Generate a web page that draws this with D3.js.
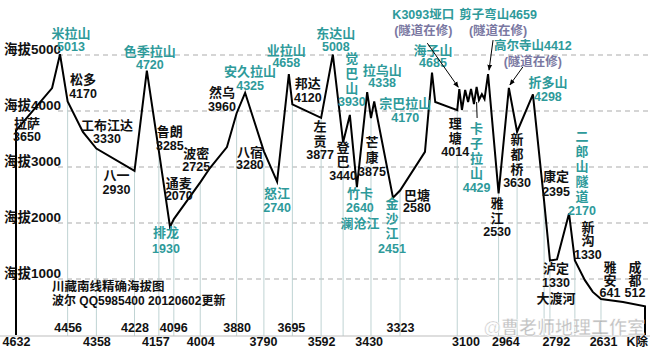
<!DOCTYPE html>
<html><head><meta charset="utf-8">
<script src="https://cdn.jsdelivr.net/npm/d3@7"></script>
<style>
body{margin:0;background:#fff}
svg text{font-family:"Liberation Sans","Noto Sans CJK SC",sans-serif;font-weight:bold}
</style></head><body>
<svg id="chart" width="650" height="350"></svg>
<script>
// Named places along the Sichuan–Tibet southern route (G318), west to east
const placeNames = ["拉萨","米拉山","松多","工布江达","八一","色季拉山","鲁朗","排龙","通麦","波密",
  "然乌","安久拉山","八宿","怒江","业拉山","邦达","左贡","东达山","登巴","觉巴山","竹卡","拉乌山",
  "芒康","宗巴拉山","金沙江","巴塘","海子山","理塘","K3093垭口","卡子拉山","剪子弯山","雅江",
  "高尔寺山","新都桥","折多山","康定","泸定","二郎山隧道","新沟","雅安","成都"];
const placeKm = [4632,4482,4456,4358,4228,4186,4145,4107,4094,4004,
  3880,3851,3787,3742,3702,3690,3592,3552,3517,3494,3470,3435,
  3422,3411,3347,3323,3214,3128,3121,3062,3023,2987,
  2952,2924,2870,2832,2812,2747,2727,2638,2488];
const placeAlt = [3650,5013,4170,3330,2930,4720,3285,1930,2070,2725,
  3960,4325,3280,2740,4658,4120,3877,5008,3440,3930,2640,4338,
  3875,4170,2451,2580,4685,4014,4390,4429,4659,2530,
  4412,3630,4298,2395,1330,2170,1330,641,512];

// Unnamed bends of the road profile
const bendKm  = [4509,4404,3971,3913,3238,3203,3112,3101,3091,3081,3071,3054,3044,3035,2788,2693,2666,2563];
const bendAlt = [4410,3625,2982,3357,3270,4160,4018,4375,4160,4393,4125,4196,4300,4214,1350,980,770,590];

// Mountain passes, rivers and tunnels (shown in teal)
const passNames = ["米拉山","色季拉山","排龙","安久拉山","怒江","业拉山","东达山","觉巴山","竹卡","拉乌山",
  "宗巴拉山","金沙江","海子山","K3093垭口","卡子拉山","剪子弯山","高尔寺山","折多山","二郎山隧道"];
// Towns with a drop line to the base
const dropNames = ["松多","工布江达","八一","鲁朗","通麦","波密","然乌","八宿","邦达","左贡","登巴",
  "芒康","巴塘","理塘","雅江","新都桥","康定","泸定","新沟","雅安"];
// Passes with a tunnel under construction
const tunnelNames = ["K3093垭口","剪子弯山","高尔寺山"];
const tunnelNote = "(隧道在修)";
const extraLines = {"竹卡":"澜沧江","泸定":"大渡河"};

// Road km markers along the bottom, two staggered rows
const kmTicksLow  = [4632,4358,4157,4004,3790,3592,3430,3100,2964,2792,2631];
const kmTicksHigh = [4456,4228,4096,3880,3695,3323];
const endMarker = "K除";
const altTicks = [1000,2000,3000,4000,5000];

const titleLines = ["川藏南线精确海拔图","波尔 QQ5985400 20120602更新"];
const watermark = "@曹老师地理工作室";

// Label placement relative to each place's point: offset of first line, vertical stacking
const labelLayout = {
  "拉萨":{dx:11,dy:-7.6},"米拉山":{dx:11,dy:-21},"松多":{dx:15.4,dy:-21.5},"工布江达":{dx:10.6,dy:-23.5},
  "八一":{dx:-18,dy:5},"色季拉山":{dx:3,dy:-19,gap:13},"鲁朗":{dx:11,dy:-20,gap:15},"排龙":{dx:-4,dy:6,gap:16},
  "通麦":{dx:5,dy:-36,gap:13},"波密":{dx:-4,dy:-29},"然乌":{dx:-14.6,dy:-21,gap:15},"安久拉山":{dx:5,dy:-21},
  "八宿":{dx:-14,dy:1,gap:13},"怒江":{dx:0,dy:11.5,gap:15},"业拉山":{dx:-2.5,dy:-24,gap:13},
  "邦达":{dx:15.5,dy:-21,gap:15},"左贡":{dx:-1,dy:9,v:true,step:15,gap:13},"东达山":{dx:3,dy:-21.5},
  "登巴":{dx:0,dy:5.6,v:true,step:14,gap:14},"觉巴山":{dx:2,dy:-56,v:true,step:15,gap:13},
  "竹卡":{dx:3,dy:6,gap:15},"拉乌山":{dx:15,dy:-22,gap:13},"芒康":{dx:1,dy:24,v:true,step:15,gap:15},
  "宗巴拉山":{dx:31,dy:2.5},"金沙江":{dx:-1,dy:6,v:true,step:15,gap:15},"巴塘":{dx:17,dy:4.5,gap:13},
  "海子山":{dx:1,dy:-22.6,gap:13},"理塘":{dx:-2,dy:13,v:true,step:15,gap:14},
  "K3093垭口":{dx:-36,dy:-74,gap:16,arrow:[-32,-46,-1,-2]},
  "卡子拉山":{dx:0,dy:42,v:true,step:15,gap:14,pointer:[15,31]},
  "剪子弯山":{dx:10,dy:-59,gap:16,arrow:[5,-34,1,-4]},
  "雅江":{dx:-1.5,dy:10,v:true,step:15,gap:14},
  "高尔寺山":{dx:24,dy:-42,gap:16,arrow:[14,-21,1,-3]},
  "新都桥":{dx:0,dy:8,v:true,step:15,gap:13},"折多山":{dx:15,dy:-12,gap:15},"康定":{dx:12,dy:-24,gap:15},
  "泸定":{dx:6,dy:7.5,gap:15},"二郎山隧道":{dx:13,dy:-76.5,v:true,step:15,gap:14},
  "新沟":{dx:13,dy:-33.5,v:true,step:13,gap:15},"雅安":{dx:9,dy:-32,v:true,step:13,gap:13},
  "成都":{dx:-10,dy:-39,v:true,step:13,gap:13}
};

const TEAL = "#2e9a9a", NOTE = "#7a78a2";
const svg = d3.select("#chart");
const x = d3.scaleLinear().domain([4632, 2488]).range([16, 645]);
const y = d3.scaleLinear().domain([0, 5000]).range([335, 55]);
const baseY = 336;

// altitude reference lines
const gAlt = svg.append("g");
gAlt.selectAll("line").data(altTicks).join("line")
  .attr("x1", 58).attr("x2", 650)
  .attr("y1", d => y(d)).attr("y2", d => y(d))
  .attr("stroke", "#ababab").attr("stroke-dasharray", "5,4").attr("stroke-width", 1);
gAlt.selectAll("text").data(altTicks).join("text")
  .attr("x", 4).attr("y", d => y(d) - 6).attr("dominant-baseline", "central")
  .attr("font-size", 13.5).attr("fill", "#111").text(d => "海拔" + d);

// assemble profile points
const places = placeNames.map((n, i) => ({name: n, km: placeKm[i], alt: placeAlt[i]}));
const byName = new Map(places.map(p => [p.name, p]));
const pts = places.concat(bendKm.map((k, i) => ({km: k, alt: bendAlt[i]})))
  .sort((a, b) => b.km - a.km);
const route = [{km: pts[0].km, alt: 0}, ...pts, {km: pts[pts.length - 1].km, alt: 0}];

// drop lines from towns
svg.append("g").selectAll("line").data(dropNames.map(n => byName.get(n))).join("line")
  .attr("x1", d => x(d.km)).attr("x2", d => x(d.km))
  .attr("y1", d => y(d.alt)).attr("y2", baseY)
  .attr("stroke", "#bfd3d3").attr("stroke-width", 1);

// base line
svg.append("line").attr("x1", 0).attr("x2", 650).attr("y1", baseY).attr("y2", baseY)
  .attr("stroke", "#bdbdbd").attr("stroke-width", 1.2);

// km marker rows
const axLow = svg.append("g").attr("transform", `translate(0,${baseY})`)
  .call(d3.axisBottom(x).tickValues(kmTicksLow).tickSize(0).tickFormat(d3.format("d")));
const axHigh = svg.append("g").attr("transform", `translate(0,${baseY})`)
  .call(d3.axisBottom(x).tickValues(kmTicksHigh).tickSize(0).tickFormat(d3.format("d")));
[axLow, axHigh].forEach(a => { a.select(".domain").remove(); });
axLow.selectAll("text").attr("y", 6).attr("dy", "0.35em").attr("font-size", 12.5).attr("fill", "#111")
  .attr("font-family", null);
axHigh.selectAll("text").attr("y", -8).attr("dy", "0.35em").attr("font-size", 12.5).attr("fill", "#111")
  .attr("font-family", null);
svg.append("text").attr("x", 648).attr("y", baseY + 6).attr("dy", "0.35em").attr("text-anchor", "end")
  .attr("font-size", 12.5).attr("fill", "#111").text(endMarker);

// profile line
svg.append("path").datum(route)
  .attr("d", d3.line().x(d => x(d.km)).y(d => y(d.alt)))
  .attr("fill", "none").attr("stroke", "#000").attr("stroke-width", 2).attr("stroke-linejoin", "miter");

// arrow head
svg.append("defs").append("marker").attr("id", "ah")
  .attr("viewBox", "0 0 10 10").attr("refX", 9).attr("refY", 5)
  .attr("markerWidth", 6).attr("markerHeight", 6).attr("orient", "auto")
  .append("path").attr("d", "M0,1L10,5L0,9z").attr("fill", "#000");

// place labels
const gLab = svg.append("g");
places.forEach(p => {
  const L = labelLayout[p.name]; if (!L) return;
  const px = x(p.km), py = y(p.alt);
  const col = passNames.includes(p.name) ? TEAL : "#111";
  const tunnel = tunnelNames.includes(p.name);
  const put = (tx, ty, s, c, fs) => gLab.append("text").attr("x", tx).attr("y", ty)
    .attr("text-anchor", "middle").attr("dominant-baseline", "central")
    .attr("font-size", fs || 13).attr("fill", c).text(s);
  const lx = px + L.dx, ly = py + L.dy;
  if (tunnel) {
    const main = p.name === "K3093垭口" ? p.name : p.name + p.alt;
    put(lx, ly, main, TEAL, 12.5);
    put(lx, ly + L.gap, tunnelNote, NOTE, 12.5);
    const a = L.arrow;
    gLab.append("line").attr("x1", px + a[0]).attr("y1", py + a[1]).attr("x2", px + a[2]).attr("y2", py + a[3])
      .attr("stroke", "#000").attr("stroke-width", 1).attr("marker-end", "url(#ah)");
  } else if (L.v) {
    const chars = Array.from(p.name);
    chars.forEach((c, i) => put(lx, ly + i * L.step, c, col, 13));
    put(lx, ly + (chars.length - 1) * L.step + L.gap, String(p.alt), col, 12.5);
    if (L.pointer) gLab.append("line").attr("x1", px).attr("x2", px + 0.5)
      .attr("y1", py + L.pointer[0]).attr("y2", py + L.pointer[1]).attr("stroke", "#000").attr("stroke-width", 1);
  } else {
    const g = L.gap || 14;
    put(lx, ly, p.name, col, 13);
    put(lx, ly + g, String(p.alt), col, 12.5);
    if (extraLines[p.name]) put(lx, ly + 2 * g, extraLines[p.name], col, 13);
  }
});

// title
titleLines.forEach((t, i) => svg.append("text").attr("x", 52).attr("y", 287 + i * 13.5)
  .attr("dominant-baseline", "central").attr("font-size", i ? 12 : 12.5).attr("fill", "#111").text(t));

// watermark
svg.append("text").attr("x", 645).attr("y", 328).attr("text-anchor", "end").attr("dominant-baseline", "central")
  .attr("font-size", 18).attr("font-weight", "normal").attr("fill", "#8a8a8a").attr("fill-opacity", 0.5)
  .attr("stroke", "#fff").attr("stroke-width", 0.6).text(watermark);
</script>
</body></html>
